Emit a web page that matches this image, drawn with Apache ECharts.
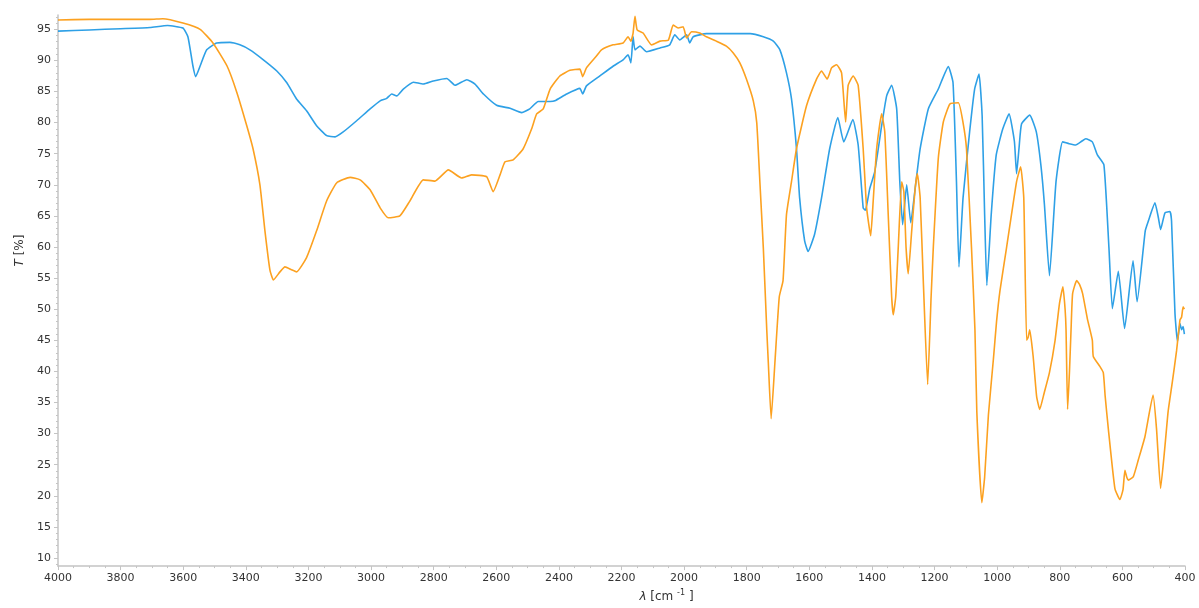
<!DOCTYPE html>
<html>
<head>
<meta charset="utf-8">
<script src="https://cdn.jsdelivr.net/npm/echarts@6/dist/echarts.min.js"></script>
<style>
  html, body { margin: 0; padding: 0; background: #fff; }
  #chart { width: 1199px; height: 608px; }
</style>
</head>
<body>
<div id="chart"></div>
<script>
// orange spectrum, wavenumber (cm-1) and transmittance (%)
var waveA = [4000, 3900, 3800, 3706, 3665, 3601, 3546, 3505, 3460, 3429, 3397, 3377, 3355, 3339, 3323, 3312,
  3291, 3275, 3256, 3238, 3206, 3174, 3142, 3110, 3067, 3035, 3003, 2971, 2945, 2908, 2876, 2833, 2796,
  2753, 2711, 2679, 2631, 2610, 2588, 2572, 2546, 2514, 2487, 2471, 2450, 2428, 2397, 2365, 2333, 2324,
  2312, 2280, 2264, 2227, 2195, 2179, 2170, 2163, 2157, 2150, 2131, 2104, 2077, 2050, 2035, 2019, 2003,
  1992, 1976, 1950, 1929, 1897, 1865, 1843, 1822, 1801, 1779, 1768, 1758, 1747, 1736, 1731, 1722, 1710,
  1696, 1684, 1673, 1657, 1641, 1609, 1577, 1561, 1543, 1529, 1513, 1497, 1484, 1476, 1460, 1444, 1428,
  1417, 1404, 1396, 1385, 1369, 1359, 1348, 1337, 1332, 1324, 1316, 1305, 1298, 1291, 1284, 1273, 1262,
  1255, 1246, 1236, 1222, 1211, 1204, 1188, 1172, 1151, 1124, 1109, 1098, 1082, 1071, 1065, 1049, 1040,
  1028, 1012, 1002, 991, 970, 938, 925, 915, 906, 901, 896, 885, 874, 864, 850, 833, 815, 801, 790, 783,
  780, 775, 769, 764, 759, 746, 737, 727, 712, 696, 693, 672, 661, 655, 645, 624, 608, 598, 592, 586,
  581, 565, 549, 528, 502, 491, 478, 464, 454, 441, 427, 416, 411, 406, 402];
var transA = [96.5, 96.6, 96.6, 96.6, 96.7, 96.0, 95.0, 92.8, 89.1, 84.9, 79.5, 75.8, 70.0, 62.6, 56.3, 54.7,
  56.0, 56.8, 56.4, 56.0, 58.3, 62.6, 67.4, 70.3, 71.2, 70.8, 69.2, 66.3, 64.7, 65.0, 67.4, 70.8, 70.6,
  72.4, 71.1, 71.6, 71.3, 68.9, 71.6, 73.7, 74.0, 75.8, 79.0, 81.4, 82.2, 85.4, 87.5, 88.4, 88.6, 87.4,
  88.8, 90.7, 91.7, 92.5, 92.8, 93.8, 93.1, 94.4, 97.1, 94.9, 94.4, 92.5, 93.1, 93.3, 95.7, 95.2, 95.4,
  93.6, 94.6, 94.4, 93.8, 93.1, 92.3, 91.2, 89.6, 87.0, 83.5, 80.0, 70.5, 59.9, 46.7, 41.4, 32.4, 41.4,
  52.0, 54.6, 65.2, 70.5, 75.8, 82.7, 87.0, 88.3, 87.0, 88.8, 89.3, 88.0, 80.1, 86.0, 87.5, 86.0, 75.8,
  66.3, 61.8, 67.4, 75.8, 81.4, 78.5, 65.2, 52.0, 49.1, 52.0, 59.9, 70.5, 68.9, 59.9, 55.7, 62.6, 69.4,
  71.8, 67.9, 54.6, 37.9, 52.0, 59.9, 74.3, 80.1, 83.0, 83.2, 80.0, 75.8, 59.9, 46.7, 33.5, 18.9, 23.0,
  33.0, 42.0, 48.0, 53.0, 59.9, 70.5, 72.9, 67.9, 45.0, 45.5, 46.7, 42.4, 36.0, 33.9, 36.5, 39.8, 45.0, 50.9, 53.6, 50.0,
  46.7, 33.9, 40.0, 46.7, 52.5, 54.6, 54.0, 52.5, 48.5, 45.0, 42.4, 40.8, 39.8, 36.0, 30.8, 21.2, 19.4, 21.0, 24.1, 23.0,
  22.5, 23.1, 25.8, 29.5, 36.2, 30.8, 21.2, 28.0, 33.5, 38.1, 43.3, 48.3, 48.7, 50.4, 50.0];

// blue spectrum
var waveB = [4000, 3900, 3800, 3706, 3650, 3601, 3585, 3569, 3560, 3546, 3525, 3493, 3451, 3419, 3387, 3344,
  3301, 3269, 3238, 3206, 3174, 3142, 3115, 3089, 3046, 3003, 2971, 2950, 2934, 2918, 2897, 2865, 2833,
  2801, 2758, 2732, 2694, 2668, 2641, 2599, 2556, 2519, 2493, 2466, 2428, 2413, 2375, 2333, 2324, 2312,
  2269, 2226, 2195, 2179, 2170, 2163, 2157, 2141, 2120, 2077, 2046, 2030, 2014, 1992, 1982, 1971, 1929,
  1865, 1789, 1747, 1715, 1694, 1673, 1657, 1641, 1631, 1615, 1604, 1583, 1561, 1535, 1509, 1490, 1461,
  1444, 1428, 1421, 1407, 1391, 1369, 1353, 1337, 1321, 1311, 1302, 1289, 1276, 1262, 1246, 1220, 1188,
  1156, 1141, 1130, 1122, 1109, 1088, 1072, 1058, 1048, 1040, 1033, 1019, 1003, 982, 962, 945, 938, 930,
  922, 896, 875, 860, 849, 833, 812, 791, 770, 749, 730, 717, 696, 680, 659, 643, 632, 613, 593, 566,
  553, 527, 517, 496, 485, 478, 464, 448, 443, 432, 424, 416, 411, 406, 402];
var transB = [94.7, 94.9, 95.1, 95.3, 95.6, 95.2, 93.8, 89.1, 87.4, 89.1, 91.7, 92.8, 92.9, 92.5, 91.7, 90.1,
  88.3, 86.4, 83.8, 81.9, 79.5, 77.9, 77.7, 78.5, 80.3, 82.2, 83.5, 83.9, 84.6, 84.3, 85.4, 86.5, 86.2,
  86.7, 87.1, 86.0, 86.9, 86.2, 84.6, 82.8, 82.3, 81.6, 82.2, 83.4, 83.4, 83.5, 84.6, 85.5, 84.6, 85.9,
  87.5, 89.1, 90.1, 90.9, 89.6, 93.8, 91.7, 92.3, 91.4, 92.0, 92.5, 94.1, 93.3, 94.1, 92.8, 93.8, 94.3,
  94.3, 94.3, 93.8, 93.1, 91.7, 88.0, 83.8, 75.8, 67.9, 61.0, 59.3, 62.1, 67.9, 75.8, 80.8, 76.9, 80.5,
  76.4, 66.3, 65.9, 69.4, 72.1, 79.5, 84.3, 86.0, 82.2, 70.5, 63.6, 70.0, 63.9, 69.4, 75.8, 82.2, 85.4,
  89.0, 86.4, 70.5, 56.8, 67.9, 78.5, 85.4, 87.8, 81.1, 65.2, 53.8, 65.2, 74.8, 79.0, 81.4, 77.0, 71.8, 76.0,
  79.8, 81.2, 78.5, 73.0, 66.8, 55.4, 70.5, 76.9, 76.6, 76.4, 77.0, 77.4, 76.9, 74.8, 73.2, 59.9, 50.1, 56.1, 46.9, 57.8,
  51.2, 62.6, 64.2, 67.1, 64.7, 62.8, 65.5, 65.7, 64.2, 49.3, 44.8, 47.7, 46.7, 47.2, 46.0];

var yLabels = [10, 15, 20, 25, 30, 35, 40, 45, 50, 55, 60, 65, 70, 75, 80, 85, 90, 95];
var yMinor = [];
for (var v = 9; v <= 97; v++) { if (v % 5 != 0) yMinor.push(v); }

function pairs(xs, ys) {
  var out = [];
  for (var i = 0; i < xs.length; i++) out.push([xs[i], ys[i]]);
  return out;
}

var axisGrey = '#c4c4c4';
var labelStyle = { color: '#333', fontSize: 11, fontFamily: 'DejaVu Sans' };

var chart = echarts.init(document.getElementById('chart'));
chart.setOption({
  animation: false,
  grid: { left: 58, right: 14, top: 15, bottom: 36 },
  xAxis: {
    type: 'value',
    inverse: true,
    min: 400,
    max: 4000,
    interval: 200,
    name: '{i|λ} [cm {s|-1} ]',
    nameLocation: 'middle',
    nameGap: 19,
    nameTextStyle: {
      color: '#333', fontSize: 12, fontFamily: 'DejaVu Sans', padding: [0, 0, 0, 90],
      rich: {
        i: { fontStyle: 'italic', fontSize: 12, fontFamily: 'DejaVu Sans', color: '#333' },
        s: { fontSize: 8, fontFamily: 'DejaVu Sans', color: '#333', verticalAlign: 'top', padding: [0, 0, 8, 0] }
      }
    },
    axisLine: { lineStyle: { color: axisGrey, width: 1.5 } },
    axisTick: { length: 4, lineStyle: { color: axisGrey } },
    minorTick: { show: true, splitNumber: 4, length: 2, lineStyle: { color: axisGrey } },
    axisLabel: Object.assign({ margin: 7, formatter: function (v) { return String(v); } }, labelStyle),
    splitLine: { show: false }
  },
  yAxis: [{
    type: 'value',
    min: 8.7,
    max: 97.3,
    name: '{i|T} [%]',
    nameLocation: 'middle',
    nameGap: 32,
    nameTextStyle: {
      color: '#333', fontSize: 12, fontFamily: 'DejaVu Sans', padding: [0, 0, 0, 80],
      rich: { i: { fontStyle: 'italic', fontSize: 12, fontFamily: 'DejaVu Sans', color: '#333' } }
    },
    axisLine: { show: true, lineStyle: { color: axisGrey, width: 1.5 } },
    axisTick: { show: true, length: 4, customValues: yLabels, lineStyle: { color: axisGrey } },
    axisLabel: Object.assign({ margin: 7, customValues: yLabels }, labelStyle),
    splitLine: { show: false }
  }, {
    type: 'value',
    min: 8.7,
    max: 97.3,
    position: 'left',
    axisLine: { show: false },
    axisTick: { show: true, length: 2, customValues: yMinor, lineStyle: { color: axisGrey } },
    axisLabel: { show: false },
    splitLine: { show: false }
  }],
  series: [{
    name: 'B',
    type: 'line',
    yAxisIndex: 0,
    data: pairs(waveB, transB),
    showSymbol: false,
    smooth: 0.15,
    lineStyle: { color: '#2ea0e6', width: 1.6 },
    itemStyle: { color: '#2ea0e6' }
  }, {
    name: 'A',
    type: 'line',
    yAxisIndex: 0,
    data: pairs(waveA, transA),
    showSymbol: false,
    smooth: 0.15,
    lineStyle: { color: '#fca120', width: 1.6 },
    itemStyle: { color: '#fca120' }
  }]
});
</script>
</body>
</html>
